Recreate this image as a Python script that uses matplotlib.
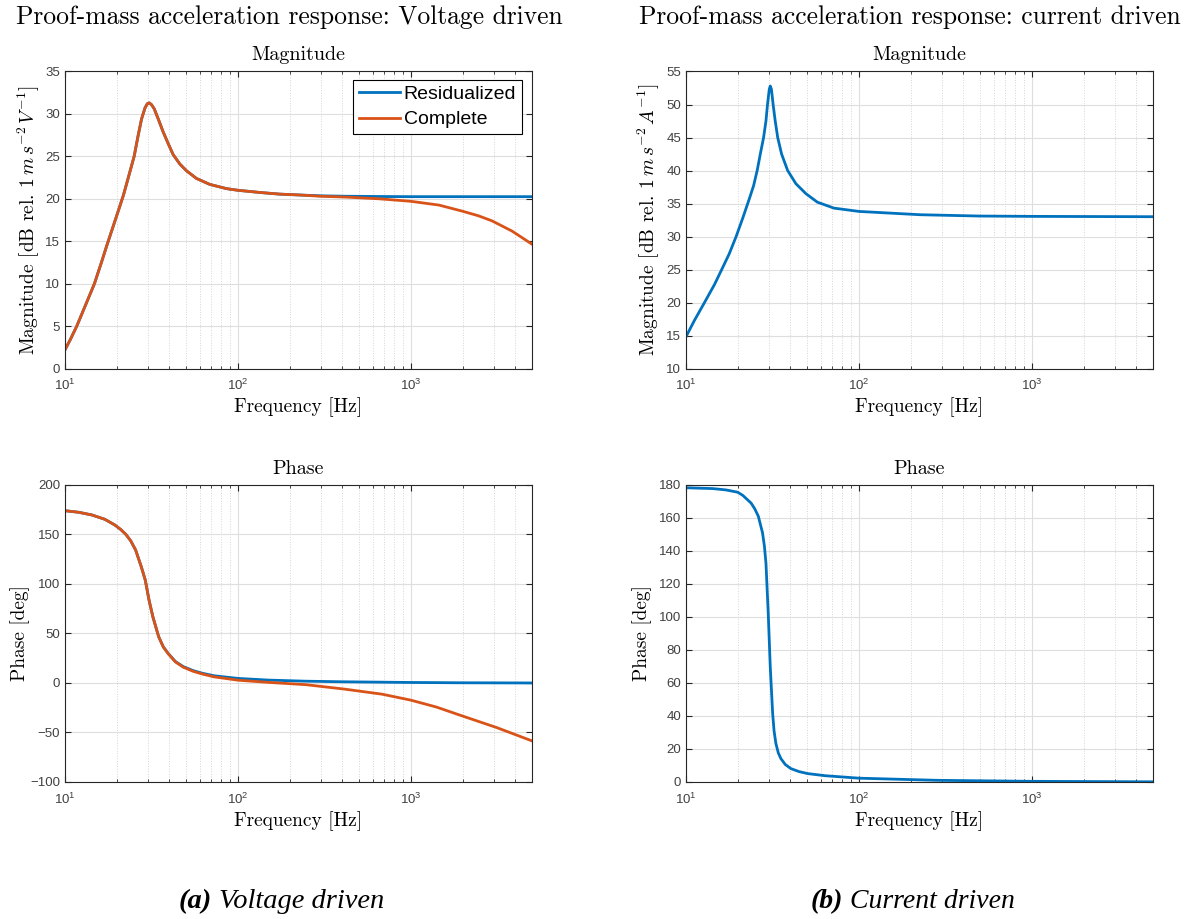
import matplotlib
matplotlib.use('Agg')
import matplotlib.pyplot as plt
from matplotlib.ticker import LogLocator, NullFormatter

plt.rcParams['font.family'] = ['Liberation Sans', 'DejaVu Sans']
plt.rcParams['mathtext.fontset'] = 'cm'

# magnitude, voltage driven [Hz], [dB]
f_mag_v = [10, 10.73, 11.7, 13.1, 14.8, 16.3, 17.45, 19.6, 21.75, 23.3, 25.1, 26.5, 27.7, 29.0,
           29.9, 30.7, 31.6, 32.8, 34.6, 36.9, 39.5, 42.2, 46.1, 50.4, 57.5, 68.6, 85.7, 100,
           133, 174, 226, 300, 420, 653, 1000, 1449, 1972, 2450, 2937, 3830, 4400, 5000]
mag_v_resid = [2.2, 3.4, 5.0, 7.4, 10.0, 12.6, 14.5, 17.6, 20.4, 22.6, 25.0, 27.5, 29.4, 30.7,
               31.2, 31.3, 31.1, 30.6, 29.4, 27.9, 26.5, 25.2, 24.1, 23.3, 22.4, 21.7, 21.2, 21.0,
               20.75, 20.55, 20.45, 20.35, 20.3, 20.27, 20.25, 20.25, 20.25, 20.25, 20.25, 20.25, 20.25, 20.25]
mag_v_complete = [2.2, 3.4, 5.0, 7.4, 10.0, 12.6, 14.5, 17.6, 20.4, 22.6, 25.0, 27.5, 29.4, 30.7,
                  31.2, 31.3, 31.1, 30.6, 29.4, 27.9, 26.5, 25.2, 24.1, 23.3, 22.4, 21.7, 21.2, 21.0,
                  20.75, 20.55, 20.45, 20.3, 20.2, 20.0, 19.7, 19.26, 18.55, 18.0, 17.4, 16.2, 15.4, 14.65]

# phase, voltage driven [deg]
f_ph_v = [10, 12, 14.3, 17, 19.4, 21, 22.5, 24, 25.6, 27.6, 29.1, 30.6, 32.2, 34.8, 37, 39.5,
          43.5, 48.3, 55, 62.3, 72.6, 100, 150, 246, 408, 679, 1000, 1400, 1880, 3120, 5000]
ph_v_resid = [174.0, 172.4, 169.7, 165.3, 159.6, 155.0, 150.0, 143.5, 134.3, 117.4, 104.0, 83.7, 66.9,
              46.6, 36.5, 29.8, 21.6, 16.5, 12.5, 9.8, 7.3, 4.6, 2.9, 1.8, 1.2, 0.8, 0.5, 0.35, 0.2, 0.1, 0.0]
ph_v_complete = [174.0, 172.4, 169.7, 165.3, 159.6, 155.0, 150.0, 143.5, 134.3, 117.4, 104.0, 83.7, 66.9,
                 46.6, 36.3, 29.5, 21.2, 15.9, 11.8, 9.0, 6.2, 2.8, 0.6, -1.7, -6.1, -11.3, -17.4, -24.3,
                 -32.0, -45.0, -58.5]

# magnitude, current driven
f_mag_i = [10, 11.2, 12.8, 14.6, 16.1, 17.8, 19.5, 21.3, 23.3, 24.6, 25.8, 26.9, 28.1, 29.0, 29.6,
           30.3, 30.7, 31.2, 31.9, 32.8, 33.9, 35.7, 38.7, 43.2, 49.3, 57.5, 71.7, 100, 226, 500,
           1000, 5000]
mag_i = [14.8, 17.3, 20.0, 22.7, 25.0, 27.4, 30.0, 32.8, 35.8, 37.7, 40.0, 42.5, 45.0, 47.5, 50.0,
         52.3, 52.8, 52.3, 50.0, 47.5, 45.0, 42.5, 40.0, 38.0, 36.5, 35.2, 34.3, 33.8, 33.3, 33.1,
         33.05, 33.0]

# phase, current driven
f_ph_i = [10, 14.3, 17, 19.9, 21.3, 23.8, 25, 26.2, 27.7, 28.4, 29.0, 29.9, 30.7, 31.7, 32.3, 33.1,
          34.2, 35.4, 37.5, 40.4, 45, 50.4, 63.7, 100, 284, 1000, 5000]
ph_i = [178.3, 177.8, 177.0, 175.6, 173.7, 169.0, 165.5, 161.0, 151.0, 143.0, 132.6, 102.0, 70.0, 41.5,
        31.0, 23.3, 17.5, 14.1, 10.6, 8.1, 6.3, 5.1, 3.8, 2.3, 1.0, 0.4, 0.1]

blue = '#0072BD'
orange = '#D95319'
axcol = '#262626'
serif = 'cmr10'


def style(ax, ylim, yticks):
    ax.set_xscale('log')
    ax.set_xlim(10, 5000)
    ax.set_ylim(*ylim)
    ax.set_yticks(yticks)
    ax.xaxis.set_minor_locator(LogLocator(base=10, subs=range(2, 10), numticks=20))
    ax.xaxis.set_minor_formatter(NullFormatter())
    ax.grid(True, which='major', color='#dedede', linewidth=0.8)
    ax.grid(True, which='minor', axis='x', color='#d4d4d4', linewidth=0.7, linestyle=':')
    ax.set_axisbelow(True)
    ax.tick_params(which='both', direction='in', top=True, right=True, colors=axcol,
                   labelsize=9.5, labelcolor='#404040')
    ax.tick_params(which='major', length=4)
    ax.tick_params(which='minor', length=2)
    ax.tick_params(axis='x', which='major', pad=7)
    for s in ax.spines.values():
        s.set_color(axcol)
        s.set_linewidth(0.8)
    ax.set_xlabel('Frequency [Hz]', fontfamily=serif, fontsize=14, labelpad=3)


fig = plt.figure(figsize=(11.88, 9.19), dpi=100)

ax1 = fig.add_axes([0.0547, 0.599, 0.3931, 0.3232])
ax2 = fig.add_axes([0.5774, 0.599, 0.3931, 0.3232])
ax3 = fig.add_axes([0.0547, 0.1491, 0.3931, 0.3232])
ax4 = fig.add_axes([0.5774, 0.1491, 0.3931, 0.3232])

ax1.plot(f_mag_v, mag_v_resid, color=blue, lw=2, label='Residualized')
ax1.plot(f_mag_v, mag_v_complete, color=orange, lw=2, label='Complete')
style(ax1, (0, 35), range(0, 36, 5))
ax1.set_title('Magnitude', fontfamily=serif, fontsize=14.5, pad=8)
ax1.set_ylabel(r'Magnitude [dB rel. $1\,m\,s^{-2}\,V^{-1}$]', fontfamily=serif, fontsize=14)
ax1.yaxis.set_label_coords(-0.049, 0.5)
leg = ax1.legend(loc='upper right', bbox_to_anchor=(0.979, 0.973), borderaxespad=0,
                 fontsize=14, fancybox=False, edgecolor='black', framealpha=1,
                 handlelength=2.1, handletextpad=0.2, borderpad=0.3, labelspacing=0.4)
leg.get_frame().set_linewidth(0.8)

ax2.plot(f_mag_i, mag_i, color=blue, lw=2)
style(ax2, (10, 55), range(10, 56, 5))
ax2.set_title('Magnitude', fontfamily=serif, fontsize=14.5, pad=8)
ax2.set_ylabel(r'Magnitude [dB rel. $1\,m\,s^{-2}\,A^{-1}$]', fontfamily=serif, fontsize=14)
ax2.yaxis.set_label_coords(-0.051, 0.5)

ax3.plot(f_ph_v, ph_v_resid, color=blue, lw=2)
ax3.plot(f_ph_v, ph_v_complete, color=orange, lw=2)
style(ax3, (-100, 200), range(-100, 201, 50))
ax3.set_title('Phase', fontfamily=serif, fontsize=14.5, pad=8)
ax3.set_ylabel('Phase [deg]', fontfamily=serif, fontsize=14)
ax3.yaxis.set_label_coords(-0.075, 0.5)

ax4.plot(f_ph_i, ph_i, color=blue, lw=2)
style(ax4, (0, 180), range(0, 181, 20))
ax4.set_title('Phase', fontfamily=serif, fontsize=14.5, pad=8)
ax4.set_ylabel('Phase [deg]', fontfamily=serif, fontsize=14)
ax4.yaxis.set_label_coords(-0.073, 0.5)

fig.text(0.244, 0.981, 'Proof-mass acceleration response: Voltage driven',
         fontfamily=serif, fontsize=18.4, ha='center', va='center')
fig.text(0.766, 0.981, 'Proof-mass acceleration response: current driven',
         fontfamily=serif, fontsize=18.4, ha='center', va='center')

# sub-figure captions
cap_y = 1 - 902 / 919
fig.text(212 / 1188, cap_y, '(a)', fontfamily='Liberation Serif', fontstyle='italic',
         fontweight='bold', fontsize=20.5, ha='right', va='center')
fig.text(219 / 1188, cap_y, 'Voltage driven', fontfamily='Liberation Serif', fontstyle='italic',
         fontsize=20.5, ha='left', va='center')
fig.text(843 / 1188, cap_y, '(b)', fontfamily='Liberation Serif', fontstyle='italic',
         fontweight='bold', fontsize=20, ha='right', va='center')
fig.text(850 / 1188, cap_y, 'Current driven', fontfamily='Liberation Serif', fontstyle='italic',
         fontsize=20, ha='left', va='center')

fig.savefig('out.png', dpi=100)
